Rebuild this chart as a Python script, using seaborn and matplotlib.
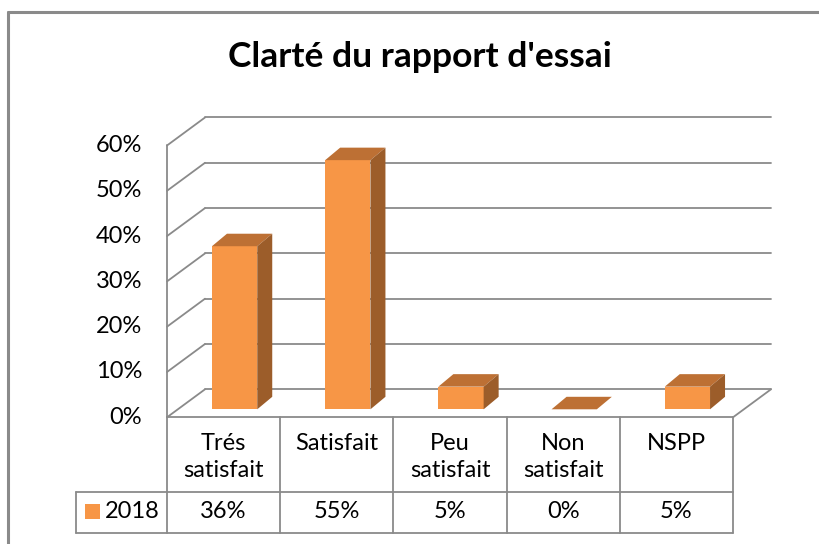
import matplotlib
matplotlib.use("Agg")
import matplotlib.pyplot as plt
import matplotlib.transforms as mtransforms
from matplotlib.patches import Polygon, Rectangle
import seaborn as sns

# ── Data ────────────────────────────────────────────────────────────────────
title       = "Clarté du rapport d'essai"
categories  = ["Trés\nsatisfait", "Satisfait", "Peu\nsatisfait", "Non\nsatisfait", "NSPP"]
series_name = "2018"
values      = [0.36, 0.55, 0.05, 0.00, 0.05]
y_ticks     = [0.0, 0.1, 0.2, 0.3, 0.4, 0.5, 0.6]

# ── Style ───────────────────────────────────────────────────────────────────
FRONT = "#F79646"
SIDE  = "#9C5D2A"
TOP   = "#BD7034"
GRID  = "#8A8A8A"
FS    = 17

sns.set_theme(style="white")
plt.rcParams["font.family"] = ["Lato", "DejaVu Sans"]

W, H = 819, 544
fig = plt.figure(figsize=(W / 100, H / 100), dpi=100)
ax = fig.add_axes([0, 0, 1, 1])
ax.set_axis_off()

# pixel geometry of the plane the bar fronts sit in
CAT_PX = 113.2     # px per category
VAL_PX = 453.0     # px per 1.0 (100%)
X0_PX  = 178.0     # left edge of first category
Y0_PX  = 409.3     # value 0

df = {"cat": categories, "val": values}
sns.barplot(x="cat", y="val", data=df, ax=ax, color=FRONT, saturation=1,
            width=0.40, linewidth=0, zorder=3)
bars = list(ax.patches)

ax.set_xlim(-0.5 - X0_PX / CAT_PX, -0.5 + (W - X0_PX) / CAT_PX)
ax.set_ylim(-(H - Y0_PX) / VAL_PX, Y0_PX / VAL_PX)
ax.set_axis_off()

# depth offsets (data units)
bdx, bdy = 27 / CAT_PX, 20 / VAL_PX      # back wall
fdx, fdy = -11 / CAT_PX, -8 / VAL_PX     # front edge
ddx, ddy = 15 / CAT_PX, 12.5 / VAL_PX    # bar depth

n = len(categories)
xl, xr = -0.5, n - 0.5
ymax = y_ticks[-1]
lw = 1.3

# back wall gridlines + left wall diagonals
for t in y_ticks:
    ax.plot([xl + bdx, xr + bdx], [t + bdy] * 2, color=GRID, lw=lw, zorder=1)
    ax.plot([xl + fdx, xl + bdx], [t + fdy, t + bdy], color=GRID, lw=lw, zorder=1)
# floor front + right edge
ax.plot([xl + fdx, xr + fdx], [fdy, fdy], color=GRID, lw=lw, zorder=4)
ax.plot([xr + fdx, xr + bdx], [fdy, bdy], color=GRID, lw=lw, zorder=1)

# 3D faces of the bars
for p in bars:
    x0, w, h = p.get_x(), p.get_width(), p.get_height()
    ax.add_patch(Polygon([(x0, h), (x0 + w, h), (x0 + w + ddx, h + ddy), (x0 + ddx, h + ddy)],
                         closed=True, facecolor=TOP, edgecolor="none", zorder=3))
    if h > 0:
        ax.add_patch(Polygon([(x0 + w, 0), (x0 + w, h), (x0 + w + ddx, h + ddy), (x0 + w + ddx, ddy)],
                             closed=True, facecolor=SIDE, edgecolor="none", zorder=3))

# ── Pixel-based transforms for text / table ─────────────────────────────────
pix = mtransforms.Affine2D().scale(1, -1).translate(0, H)
x_data_y_pix = mtransforms.blended_transform_factory(ax.transData, pix)
x_pix_y_data = mtransforms.blended_transform_factory(pix, ax.transData)

# y tick labels
for t in y_ticks:
    ax.text(142, t + fdy, f"{t:.0%}", transform=x_pix_y_data, ha="right", va="center",
            fontsize=FS, color="black")

# title
ax.text(420, 57, title, transform=pix, ha="center", va="center",
        fontsize=25.5, fontweight="bold", color="black")

# data table
ROW1, ROW2, ROW3 = 417.3, 491.5, 532.5
LEG_X = 76
tlw = 1.3
# column separators (front-left axis continues down)
ax.plot([xl + fdx] * 2, [fdy, ymax + fdy], color=GRID, lw=lw, zorder=4)
for i in range(n + 1):
    ax.plot([i - 0.5 + fdx] * 2, [ROW1, ROW3], transform=x_data_y_pix,
            color=GRID, lw=tlw, zorder=4)
x_right_px = ax.transData.transform((xr + fdx, 0))[0]
for yy in (ROW2, ROW3):
    ax.plot([LEG_X, x_right_px], [yy, yy], transform=pix, color=GRID, lw=tlw, zorder=4)
ax.plot([LEG_X, LEG_X], [ROW2, ROW3], transform=pix, color=GRID, lw=tlw, zorder=4)

for i, (c, v) in enumerate(zip(categories, values)):
    ax.text(i + fdx, 433, c, transform=x_data_y_pix, ha="center", va="top",
            fontsize=FS, linespacing=1.35, color="black")
    ax.text(i + fdx, 512, f"{v:.0%}", transform=x_data_y_pix, ha="center", va="center",
            fontsize=FS, color="black")

# legend key
ax.add_patch(Rectangle((85, 518.5), 15, -15, transform=pix, facecolor=FRONT,
                       edgecolor="none", zorder=4))
ax.text(105, 512, series_name, transform=pix, ha="left", va="center",
        fontsize=FS, color="black")

# outer chart frame
ax.plot([8, 8], [12, H], transform=pix, color=GRID, lw=2.2, zorder=5)
ax.plot([8, W], [12, 12], transform=pix, color=GRID, lw=2.2, zorder=5)

fig.savefig("out.png", dpi=100)
